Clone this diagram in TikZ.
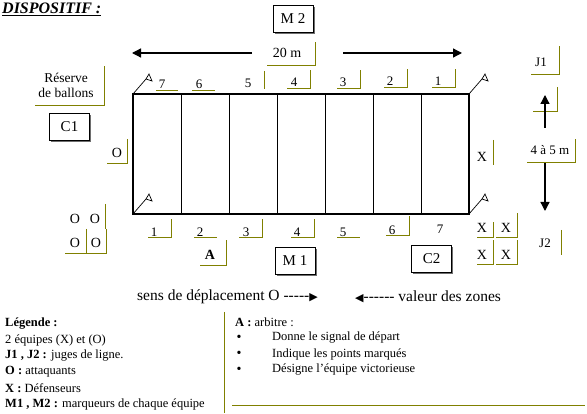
\documentclass[tikz,border=0pt]{standalone}
\usepackage{fontspec}
\setmainfont{Liberation Serif}
\newfontfamily\symfont{DejaVu Sans}
\usetikzlibrary{arrows.meta,shadows}
\definecolor{frameol}{RGB}{128,128,0}
\definecolor{shadowgray}{RGB}{110,110,110}
\newcommand{\dsh}{{-}}
\tikzset{
  every node/.style={font=\fontsize{12.5}{14}\selectfont, inner sep=0pt},
  numtxt/.style={font=\fontsize{13}{15}\selectfont},
  pltxt/.style={font=\fontsize{14}{16}\selectfont},
  bigtxt/.style={font=\fontsize{15.5}{17}\selectfont},
  frm/.style={draw=frameol, line width=1pt},
  field/.style={draw=black, line width=1.3pt},
  divider/.style={draw=black, line width=1pt},
  flagline/.style={draw=black, line width=0.7pt},
  arr/.style={draw=black, line width=1.3pt, -{Triangle[length=9pt,width=9pt]}},
  sbox/.style={draw=black, line width=0.9pt, fill=white, minimum width=40pt, minimum height=27pt,
    font=\fontsize{15}{17}\selectfont,
    drop shadow={shadow xshift=1.6pt, shadow yshift=-1.6pt, fill=shadowgray, opacity=1}},
  legtxt/.style={anchor=west, font=\fontsize{12.5}{14}\selectfont}
}
\begin{document}
\begin{tikzpicture}[x=1pt,y=-1pt]
\useasboundingbox (0,0) rectangle (587,414);

% title
\node[anchor=west, font=\fontsize{16}{18}\selectfont\bfseries\itshape] (title) at (2,9) {\underline{DISPOSITIF :}};

% field
\coordinate (tl) at (133,94);
\coordinate (tr) at (469,94);
\coordinate (bl) at (133,214);
\coordinate (br) at (469,214);
\draw[field] (tl) rectangle (br);
\foreach \x in {181,229,277,325,373,421}
  \draw[divider] (\x,94) -- (\x,214);

% flags
\foreach \c in {tl,tr,bl,br}{
  \draw[flagline] (\c) -- ++(13,-15);
  \draw[flagline] ([shift={(13,-15)}]\c) -- ++(3,-5) -- ++(3,7) -- cycle;
}

% top numbers
\node[numtxt] (t7) at (162,84) {7};
\node[numtxt] (t6) at (199,84) {6};
\node[numtxt] (t5) at (248,83) {5};
\node[numtxt] (t4) at (294,82) {4};
\node[numtxt] (t3) at (343,82) {3};
\node[numtxt] (t2) at (390,81) {2};
\node[numtxt] (t1) at (438,81) {1};
\draw[frm] (156,91) -- (178,91);
\draw[frm] (192,91) -- (215,91);
\draw[frm] (264,71) -- (264,89);
\draw[frm] (287,89) -- (310,89) -- (310,70);
\draw[frm] (337,89) -- (360,89) -- (360,70);
\draw[frm] (384,88) -- (407,88) -- (407,69);
\draw[frm] (432,88) -- (455,88) -- (455,69);

% bottom numbers
\node[numtxt] (b1) at (154,232) {1};
\node[numtxt] (b2) at (200,232) {2};
\node[numtxt] (b3) at (246,232) {3};
\node[numtxt] (b4) at (297,232) {4};
\node[numtxt] (b5) at (343,232) {5};
\node[numtxt] (b6) at (392,230) {6};
\node[numtxt] (b7) at (440,229) {7};
\draw[frm] (148,238) -- (171,238) -- (171,219);
\draw[frm] (194,238) -- (217,238);
\draw[frm] (239,238) -- (262,238) -- (262,219);
\draw[frm] (291,238) -- (314,238) -- (314,219);
\draw[frm] (337,238) -- (360,238);
\draw[frm] (386,236) -- (409,236) -- (409,216);

% 20 m and horizontal arrows
\node[font=\fontsize{14}{16}\selectfont] (len) at (287,53) {20 m};
\draw[frm] (267,66) -- (315,66) -- (315,42);
\coordinate (la0) at (252,53);
\coordinate (la1) at (132,53);
\coordinate (ra0) at (343,53);
\coordinate (ra1) at (462,53);
\draw[arr] (la0) -- (la1);
\draw[arr] (ra0) -- (ra1);

% shadow boxes
\node[sbox] (m2) at (293,18.5) {M 2};
\node[sbox] (c1) at (69.5,127) {C1};
\node[sbox] (m1) at (295,260.5) {M 1};
\node[sbox] (c2) at (431.5,258.5) {C2};

% reserve
\node[align=center, font=\fontsize{13.5}{15}\selectfont] (res) at (66,85.5) {Réserve\\de ballons};
\draw[frm] (35,106) -- (104,106) -- (104,66);

% O players
\node[pltxt] (o0) at (117,153) {O};
\draw[frm] (107,164) -- (127,164) -- (127,139);
\node[pltxt] (o1) at (75,219) {O};
\node[pltxt] (o2) at (95,219) {O};
\node[pltxt] (o3) at (75,243) {O};
\node[pltxt] (o4) at (96,243) {O};
\draw[frm] (105,204) -- (105,229);
\draw[frm] (65,254) -- (106,254) -- (106,229);
\draw[frm] (86,229) -- (86,254);

% X players
\node[pltxt] (x0) at (482,157) {X};
\draw[frm] (493,140) -- (493,165);
\node[pltxt] (x1) at (482,228) {X};
\node[pltxt] (x2) at (506,228) {X};
\node[pltxt] (x3) at (482,255) {X};
\node[pltxt] (x4) at (506,255) {X};
\draw[frm] (477,238) -- (493,238) -- (493,222);
\draw[frm] (496,238) -- (517,238) -- (517,213);
\draw[frm] (477,265) -- (493,265) -- (493,240);
\draw[frm] (496,265) -- (517,265) -- (517,240);

% judges and vertical arrows
\node[numtxt] (j1) at (541,62) {J1};
\draw[frm] (531,75) -- (559,75) -- (559,46);
\node[numtxt] (j2) at (545,243) {J2};
\draw[frm] (561,230) -- (561,255);
\node[font=\fontsize{13}{15}\selectfont] (wid) at (550,150) {4 à 5 m};
\draw[frm] (527,163) -- (575,163) -- (575,139);
\draw[frm] (533,112) -- (557,112) -- (557,87);
\coordinate (ua0) at (545,128);
\coordinate (ua1) at (545,95);
\coordinate (da0) at (545,163);
\coordinate (da1) at (545,211);
\draw[arr] (ua0) -- (ua1);
\draw[arr] (da0) -- (da1);

% referee
\node[font=\fontsize{14}{16}\selectfont\bfseries] (ref) at (210,255) {A};
\draw[frm] (200,266) -- (226,266) -- (226,240);

% direction line
\node[anchor=west, bigtxt] (sens) at (137,297) {sens de déplacement O \dsh\dsh\dsh\dsh\dsh{\symfont\fontsize{11}{12}\selectfont ▶}};
\node[anchor=west, bigtxt] (val) at (355,297) {{\symfont\fontsize{11}{12}\selectfont ◀}\dsh\dsh\dsh\dsh\dsh\dsh\ valeur des zones};

% legend
\node[legtxt] (l1) at (5,324) {\textbf{Légende :}};
\node[legtxt] (l2) at (5,340) {2 équipes (X) et (O)};
\node[legtxt] (l3) at (5,356) {\textbf{J1 , J2 :} juges de ligne.};
\node[legtxt] (l4) at (5,372) {\textbf{O :} attaquants};
\node[legtxt] (l5) at (5,388) {\textbf{X :} Défenseurs};
\node[legtxt] (l6) at (5,404) {\textbf{M1 , M2 :} marqueurs de chaque équipe};
\draw[frm] (224,312) -- (224,413);

\node[legtxt] (r1) at (235,322) {\textbf{A :} arbitre :};
\node[font=\fontsize{14}{16}\selectfont] (bu1) at (239,338) {•};
\node[font=\fontsize{14}{16}\selectfont] (bu2) at (239,354) {•};
\node[font=\fontsize{14}{16}\selectfont] (bu3) at (239,370) {•};
\node[legtxt] (r2) at (272,338) {Donne le signal de départ};
\node[legtxt] (r3) at (272,354) {Indique les points marqués};
\node[legtxt] (r4) at (272,370) {Désigne l'équipe victorieuse};
\draw[frm] (232,405) -- (585,405);
\end{tikzpicture}
\end{document}
